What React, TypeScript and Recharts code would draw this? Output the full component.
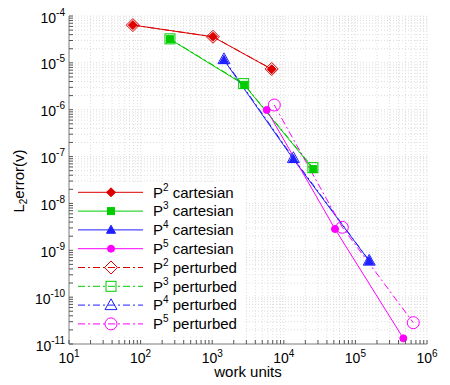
import React from 'react';
import { ComposedChart, Line, XAxis, YAxis, CartesianGrid } from 'recharts';

// ---------- data ----------
const P2_CARTESIAN = [
  { x: 78, y: 6.4e-5 },
  { x: 1025, y: 3.6e-5 },
  { x: 6780, y: 7.3e-6 },
];
const P3_CARTESIAN = [
  { x: 257, y: 3.2e-5 },
  { x: 2800, y: 3.4e-6 },
  { x: 25800, y: 5.4e-8 },
];
const P4_CARTESIAN = [
  { x: 1460, y: 1.15e-5 },
  { x: 13600, y: 8.8e-8 },
  { x: 156000, y: 5.9e-10 },
];
const P5_CARTESIAN = [
  { x: 5770, y: 9.9e-7 },
  { x: 51900, y: 2.85e-9 },
  { x: 467000, y: 1.32e-11 },
];
const P2_PERTURBED = [
  { x: 78, y: 6.4e-5 },
  { x: 1025, y: 3.6e-5 },
  { x: 6780, y: 7.4e-6 },
];
const P3_PERTURBED = [
  { x: 257, y: 3.25e-5 },
  { x: 2750, y: 3.6e-6 },
  { x: 25500, y: 5.8e-8 },
];
const P4_PERTURBED = [
  { x: 1460, y: 1.2e-5 },
  { x: 13600, y: 9.3e-8 },
  { x: 156000, y: 6.0e-10 },
];
const P5_PERTURBED = [
  { x: 7370, y: 1.26e-6 },
  { x: 65600, y: 3.1e-9 },
  { x: 644000, y: 2.85e-11 },
];

const X_MAJOR = [1e1, 1e2, 1e3, 1e4, 1e5, 1e6];
const Y_MAJOR = [1e-11, 1e-10, 1e-9, 1e-8, 1e-7, 1e-6, 1e-5, 1e-4];
const MINOR_MULTIPLIERS = [2, 3, 4, 5, 6, 7, 8, 9];

const X_LABEL = 'work units';
const LEGEND_LABELS = [
  ['2', ' cartesian'],
  ['3', ' cartesian'],
  ['4', ' cartesian'],
  ['5', ' cartesian'],
  ['2', ' perturbed'],
  ['3', ' perturbed'],
  ['4', ' perturbed'],
  ['5', ' perturbed'],
];

// ---------- styling ----------
const RED = '#dd0000';
const GREEN = '#00cc00';
const BLUE = '#1f1fff';
const MAGENTA = '#ff00ff';
const FONT = '"Liberation Sans", Arial, Helvetica, sans-serif';
const DASH_DOT = '7 3 2 3';

const withMinors = (majors: number[]) => {
  const out: number[] = [];
  majors.forEach((m, i) => {
    out.push(m);
    if (i < majors.length - 1) MINOR_MULTIPLIERS.forEach((k) => out.push(m * k));
  });
  return out;
};
const X_TICKS = withMinors(X_MAJOR);
const Y_TICKS = withMinors(Y_MAJOR);

const isMajor = (v: number) => Math.abs(Math.log10(v) - Math.round(Math.log10(v))) < 1e-6;
const expOf = (v: number) => Math.round(Math.log10(v));

type Shape = 'diamond' | 'square' | 'triangle' | 'circle';

const Marker = ({ shape, filled, color, cx, cy, s }: any) => {
  const common = {
    fill: filled ? color : 'none',
    stroke: color,
    strokeWidth: 1,
  };
  if (shape === 'diamond')
    return <polygon points={`${cx},${cy - s} ${cx + s},${cy} ${cx},${cy + s} ${cx - s},${cy}`} {...common} />;
  if (shape === 'square') return <rect x={cx - s} y={cy - s} width={2 * s} height={2 * s} {...common} />;
  if (shape === 'triangle')
    return (
      <polygon
        points={`${cx},${cy - s * 1.05} ${cx + s},${cy + s * 0.75} ${cx - s},${cy + s * 0.75}`}
        {...common}
      />
    );
  return <circle cx={cx} cy={cy} r={s} {...common} />;
};

const dotRenderer = (name: string, shape: Shape, filled: boolean, color: string, s: number) => (props: any) => {
  const { cx, cy, index } = props;
  if (cx == null || cy == null) return <g key={`${name}-${index}`} />;
  return (
    <g key={`${name}-${index}`}>
      <Marker shape={shape} filled={filled} color={color} cx={cx} cy={cy} s={s} />
    </g>
  );
};

const TICK_LEN = 4;
const TICK_COLOR = '#555';
const AXIS_COLOR = '#a8a8a8';

const BottomTick = (props: any) => {
  const { x, y, payload } = props;
  const v = payload.value;
  return (
    <g>
      <line x1={x} y1={y} x2={x} y2={y - TICK_LEN} stroke={TICK_COLOR} strokeWidth={1} />
      {isMajor(v) && (
        <text x={x} y={y + 18.5} textAnchor="middle" fontFamily={FONT} fontSize={14} fill="#000">
          <tspan>10</tspan>
          <tspan dy={-6} fontSize={10}>
            {String(expOf(v))}
          </tspan>
        </text>
      )}
    </g>
  );
};

const TopTick = (props: any) => {
  const { x, y } = props;
  return <line x1={x} y1={y} x2={x} y2={y + TICK_LEN} stroke={TICK_COLOR} strokeWidth={1} />;
};

const LeftTick = (props: any) => {
  const { x, y, payload } = props;
  const v = payload.value;
  return (
    <g>
      <line x1={x} y1={y} x2={x + TICK_LEN} y2={y} stroke={TICK_COLOR} strokeWidth={1} />
      {isMajor(v) && (
        <text x={x - 4} y={y + 6.5} textAnchor="end" fontFamily={FONT} fontSize={14} fill="#000">
          <tspan>10</tspan>
          <tspan dy={-7} fontSize={10}>
            {String(expOf(v))}
          </tspan>
        </text>
      )}
    </g>
  );
};

const RightTick = (props: any) => {
  const { x, y } = props;
  return <line x1={x} y1={y} x2={x - TICK_LEN} y2={y} stroke={TICK_COLOR} strokeWidth={1} />;
};

const SERIES = [
  { name: 'p2c', data: P2_CARTESIAN, color: RED, shape: 'diamond' as Shape, filled: true, s: 4.5, dash: undefined },
  { name: 'p3c', data: P3_CARTESIAN, color: GREEN, shape: 'square' as Shape, filled: true, s: 3.5, dash: undefined },
  { name: 'p4c', data: P4_CARTESIAN, color: BLUE, shape: 'triangle' as Shape, filled: true, s: 4.5, dash: undefined },
  { name: 'p5c', data: P5_CARTESIAN, color: MAGENTA, shape: 'circle' as Shape, filled: true, s: 3.5, dash: undefined },
  { name: 'p2p', data: P2_PERTURBED, color: RED, shape: 'diamond' as Shape, filled: false, s: 6.5, dash: DASH_DOT },
  { name: 'p3p', data: P3_PERTURBED, color: GREEN, shape: 'square' as Shape, filled: false, s: 5, dash: DASH_DOT },
  { name: 'p4p', data: P4_PERTURBED, color: BLUE, shape: 'triangle' as Shape, filled: false, s: 6, dash: DASH_DOT },
  { name: 'p5p', data: P5_PERTURBED, color: MAGENTA, shape: 'circle' as Shape, filled: false, s: 6, dash: DASH_DOT },
];

const W = 450;
const H = 385;

export default function App() {
  return (
    <div style={{ position: 'absolute', left: 0, top: 0, width: W, height: H, background: '#fff' }}>
      <ComposedChart width={W} height={H} margin={{ top: 16, right: 23, left: 0, bottom: 0 }}>
        <CartesianGrid stroke="#dedede" strokeDasharray="1 2" />
        <XAxis
          dataKey="x"
          type="number"
          scale="log"
          domain={[X_MAJOR[0], X_MAJOR[X_MAJOR.length - 1]]}
          ticks={X_TICKS}
          interval={0}
          allowDataOverflow
          height={41}
          tickSize={0}
          tickMargin={0}
          tickLine={false}
          axisLine={{ stroke: AXIS_COLOR, strokeWidth: 1.5 }}
          tick={<BottomTick />}
        />
        <XAxis
          xAxisId="top"
          orientation="top"
          dataKey="x"
          type="number"
          scale="log"
          domain={[X_MAJOR[0], X_MAJOR[X_MAJOR.length - 1]]}
          ticks={X_TICKS}
          interval={0}
          allowDataOverflow
          height={0}
          tickSize={0}
          tickMargin={0}
          tickLine={false}
          axisLine={{ stroke: AXIS_COLOR, strokeWidth: 1.5 }}
          tick={<TopTick />}
        />
        <YAxis
          dataKey="y"
          type="number"
          scale="log"
          domain={[Y_MAJOR[0], Y_MAJOR[Y_MAJOR.length - 1]]}
          ticks={Y_TICKS}
          interval={0}
          allowDataOverflow
          width={69}
          tickSize={0}
          tickMargin={0}
          tickLine={false}
          axisLine={{ stroke: AXIS_COLOR, strokeWidth: 1.5 }}
          tick={<LeftTick />}
        />
        <YAxis
          yAxisId="right"
          orientation="right"
          dataKey="y"
          type="number"
          scale="log"
          domain={[Y_MAJOR[0], Y_MAJOR[Y_MAJOR.length - 1]]}
          ticks={Y_TICKS}
          interval={0}
          allowDataOverflow
          width={0}
          tickSize={0}
          tickMargin={0}
          tickLine={false}
          axisLine={{ stroke: AXIS_COLOR, strokeWidth: 1.5 }}
          tick={<RightTick />}
        />
        {SERIES.map((sr) => (
          <Line
            key={sr.name}
            data={sr.data}
            dataKey="y"
            type="linear"
            stroke={sr.color}
            strokeWidth={1}
            strokeDasharray={sr.dash}
            dot={dotRenderer(sr.name, sr.shape, sr.filled, sr.color, sr.s)}
            activeDot={false}
            isAnimationActive={false}
            legendType="none"
          />
        ))}
      </ComposedChart>
      <svg
        width={W}
        height={H}
        style={{ position: 'absolute', left: 0, top: 0, pointerEvents: 'none' }}
      >
        <text x={248} y={377} textAnchor="middle" fontFamily={FONT} fontSize={15} fill="#000">
          {X_LABEL}
        </text>
        <text
          transform="translate(24,181) rotate(-90)"
          textAnchor="middle"
          fontFamily={FONT}
          fontSize={15}
          fill="#000"
        >
          <tspan>L</tspan>
          <tspan dy={3} fontSize={10}>
            2
          </tspan>
          <tspan dy={-3}>error(v)</tspan>
        </text>
        <rect x={73} y={182} width={172} height={154} fill="#fff" />
        {SERIES.map((sr, i) => {
          const cy = 192.3 + i * 18.8;
          const [sup, rest] = LEGEND_LABELS[i];
          return (
            <g key={`leg-${sr.name}`}>
              <line x1={78} y1={cy} x2={143} y2={cy} stroke={sr.color} strokeWidth={1} strokeDasharray={sr.dash} />
              <Marker shape={sr.shape} filled={sr.filled} color={sr.color} cx={111} cy={cy} s={sr.s} />
              <text x={153} y={cy + 5.3} fontFamily={FONT} fontSize={15} fill="#000">
                <tspan>P</tspan>
                <tspan dy={-7} fontSize={10}>
                  {sup}
                </tspan>
                <tspan dy={7}>{rest}</tspan>
              </text>
            </g>
          );
        })}
      </svg>
    </div>
  );
}
